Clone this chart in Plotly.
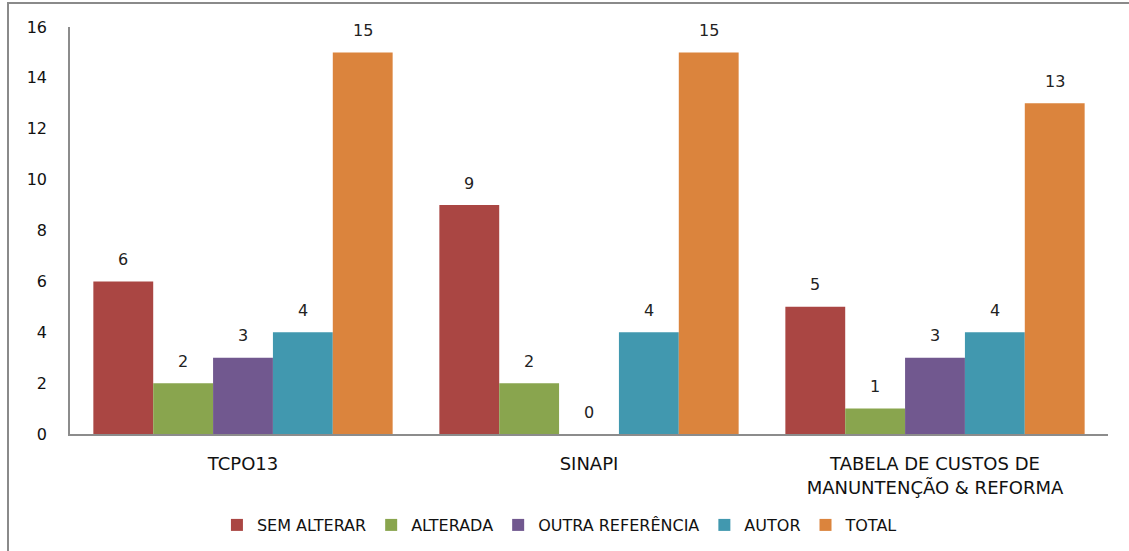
import plotly.graph_objects as go

categories = ["TCPO13", "SINAPI", "TABELA DE CUSTOS DE<br>MANUNTENÇÃO & REFORMA"]
series_names = ["SEM ALTERAR", "ALTERADA", "OUTRA REFERÊNCIA", "AUTOR", "TOTAL"]
sem_alterar = [6, 9, 5]
alterada = [2, 2, 1]
outra_referencia = [3, 0, 3]
autor = [4, 4, 4]
total = [15, 15, 13]
colors = ["#AA4643", "#89A54E", "#71588F", "#4198AF", "#DB843D"]
y_ticks = [0, 2, 4, 6, 8, 10, 12, 14, 16]

series = [sem_alterar, alterada, outra_referencia, autor, total]

W, H = 1129, 551
ml, mr, mt, mb = 70, 21, 27, 117
pw = W - ml - mr
ph = H - mt - mb

fig = go.Figure()
for name, vals, c in zip(series_names, series, colors):
    fig.add_trace(go.Bar(name=name, x=categories, y=vals, marker=dict(color=c, line=dict(width=0))))

bargap = 0.135
bar_px = pw / 3 * (1 - bargap) / 5
annotations = []
for i, vals in enumerate(series):
    for cat, v in zip(categories, vals):
        annotations.append(dict(x=cat, y=v, xref="x", yref="y", text=str(v), showarrow=False,
                                xshift=(i - 2) * bar_px, yshift=22,
                                font=dict(family="DejaVu Sans", size=16, color="#222")))

fig.update_layout(
    width=W, height=H,
    margin=dict(l=ml, r=mr, t=mt, b=mb, autoexpand=False),
    paper_bgcolor="white", plot_bgcolor="white",
    barmode="group", bargap=bargap, bargroupgap=0,
    font=dict(family="DejaVu Sans", color="#111"),
    annotations=annotations,
    legend=dict(orientation="h", x=0.472, xanchor="center", y=-0.2236, yanchor="middle",
                font=dict(family="DejaVu Sans", size=16, color="#111"), itemwidth=30,
                traceorder="normal"),
    shapes=[dict(type="rect", xref="paper", yref="paper",
                 x0=(8 - ml) / pw, x1=(W + 10 - ml) / pw,
                 y0=(ph + mt - H - 10) / ph, y1=(ph + mt - 3) / ph,
                 line=dict(color="#8a8a8a", width=2), layer="below")],
)
fig.update_xaxes(showline=True, linecolor="#8c8c8c", linewidth=1.5, ticks="", automargin=False,
                 ticklabelstandoff=13,
                 tickfont=dict(family="DejaVu Sans", size=18, color="#111"), showgrid=False)
fig.update_yaxes(range=[0, 16], tickvals=y_ticks, showline=True, linecolor="#8c8c8c", linewidth=1.5,
                 ticks="", showgrid=False, zeroline=False, ticklabelstandoff=18, automargin=False,
                 tickfont=dict(family="DejaVu Sans", size=16, color="#111"))

fig.write_html("out.html", config={"displayModeBar": False},
               post_script="document.body.style.margin='0';")
